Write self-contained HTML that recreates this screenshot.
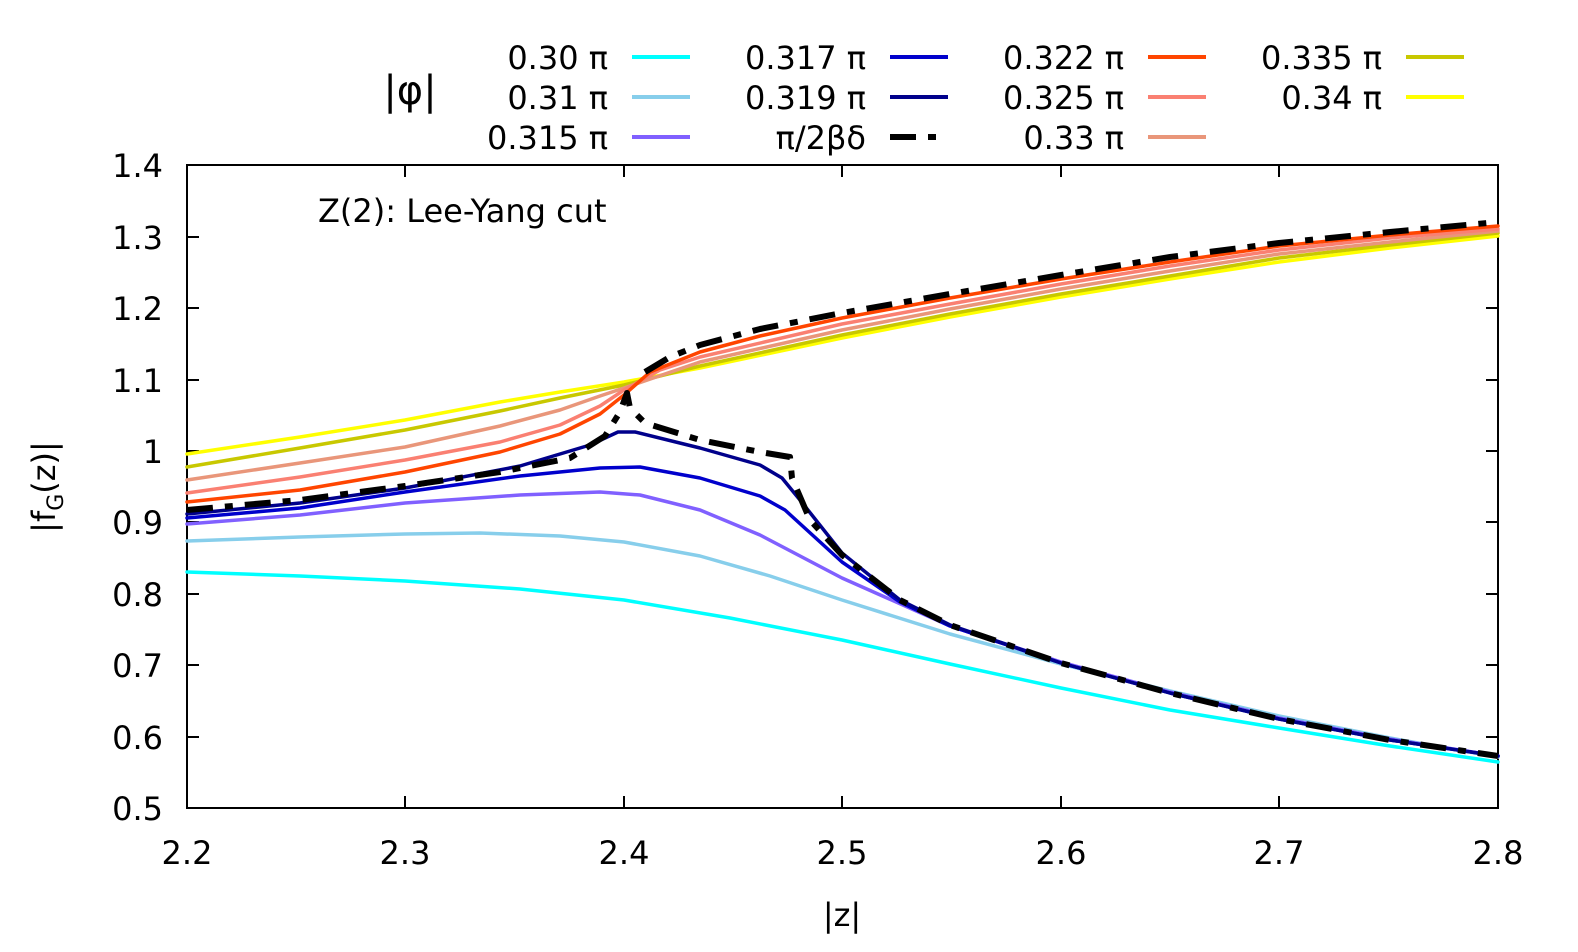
<!DOCTYPE html>
<html><head><meta charset="utf-8"><style>
html,body{margin:0;padding:0;background:#fff}
svg text{font-family:"DejaVu Sans","Liberation Sans",sans-serif;fill:#000}
</style></head><body>
<svg width="1578" height="947" viewBox="0 0 1578 947" xmlns="http://www.w3.org/2000/svg">
<rect width="1578" height="947" fill="#fff"/>
<g stroke="#000" stroke-width="2" fill="none">
<rect x="187" y="165" width="1311" height="643"/>
<path d="M405 808v-12M624 808v-12M842 808v-12M1061 808v-12M1279 808v-12M405 165v12M624 165v12M842 165v12M1061 165v12M1279 165v12
M187 237h12M187 308h12M187 380h12M187 451h12M187 522h12M187 594h12M187 665h12M187 737h12
M1498 237h-12M1498 308h-12M1498 380h-12M1498 451h-12M1498 522h-12M1498 594h-12M1498 665h-12M1498 737h-12"/>
</g>
<g font-size="32" text-anchor="end">
<text x="163" y="177">1.4</text><text x="163" y="249">1.3</text><text x="163" y="320">1.2</text><text x="163" y="392">1.1</text>
<text x="163" y="463">1</text><text x="163" y="534">0.9</text><text x="163" y="606">0.8</text><text x="163" y="677">0.7</text>
<text x="163" y="749">0.6</text><text x="163" y="820">0.5</text>
</g>
<g font-size="32" text-anchor="middle">
<text x="187" y="864">2.2</text><text x="405" y="864">2.3</text><text x="624" y="864">2.4</text><text x="842" y="864">2.5</text>
<text x="1061" y="864">2.6</text><text x="1279" y="864">2.7</text><text x="1498" y="864">2.8</text>
<text x="842" y="926">|z|</text>
</g>
<text font-size="32" transform="translate(55,487) rotate(-90)" text-anchor="middle">|f<tspan font-size="22" dy="8">G</tspan><tspan dy="-8">(z)|</tspan></text>
<text x="318" y="222" font-size="32">Z(2): Lee-Yang cut</text>
<text x="410" y="104" font-size="40" text-anchor="middle">|φ|</text>
<g font-size="32" text-anchor="end">
<text x="608" y="69">0.30 π</text><text x="608" y="109">0.31 π</text><text x="608" y="149">0.315 π</text>
<text x="866" y="69">0.317 π</text><text x="866" y="109">0.319 π</text><text x="866" y="149">π/2βδ</text>
<text x="1124" y="69">0.322 π</text><text x="1124" y="109">0.325 π</text><text x="1124" y="149">0.33 π</text>
<text x="1382" y="69">0.335 π</text><text x="1382" y="109">0.34 π</text>
</g>
<g stroke-width="4" fill="none">
<path d="M632 57h58" stroke="#00ffff"/><path d="M632 97h58" stroke="#87ceeb"/><path d="M632 137h58" stroke="#8060ff"/>
<path d="M890 57h58" stroke="#0000cc"/><path d="M890 97h58" stroke="#00008b"/>
<path d="M890 137h58" stroke="#000" stroke-width="6" stroke-dasharray="26 12 8 12"/>
<path d="M1148 57h58" stroke="#ff4500"/><path d="M1148 97h58" stroke="#fa8072"/><path d="M1148 137h58" stroke="#e9967a"/>
<path d="M1406 57h58" stroke="#c8c800"/><path d="M1406 97h58" stroke="#ffff00"/>
</g>
<g fill="none" stroke-width="3.5" stroke-linejoin="round" stroke-linecap="round">
<polyline stroke="#00ffff" points="187,572 300,576 405,581 520,589 624,600 730,618 842,640 950,664 1061,688 1170,710 1279,728 1390,746 1498,762"/>
<polyline stroke="#87ceeb" points="187,541 300,537 405,534 480,533 560,536 624,542 700,556 770,576 842,600 950,634 1061,664 1170,691 1279,716 1390,738 1498,757"/>
<polyline stroke="#8060ff" points="187,524 300,515 405,503 520,495 600,492 640,495 700,510 760,535 842,578 950,626 1061,662 1170,692 1279,718 1390,739 1498,756"/>
<polyline stroke="#0000cc" points="187,518 300,508 405,492 520,476 600,468 640,467 700,478 760,496 785,510 842,562 900,602 950,626 1061,663 1170,693 1279,719 1390,740 1498,756"/>
<polyline stroke="#00008b" points="187,514 300,503 405,488 520,466 590,445 618,432 635,432 700,448 760,465 782,478 800,500 842,553 900,600 950,625 1061,663 1170,693 1279,719 1390,740 1498,756"/>
<polyline stroke="#ffff00" points="187,454 300,437 405,420 500,402 560,392 624,382 700,368 842,338 950,317 1061,297 1170,279 1279,262 1390,248 1498,236"/>
<polyline stroke="#c8c800" points="187,467 300,448 405,430 500,411 560,398 624,385 700,366 842,335 950,314 1061,294 1170,276 1279,258 1390,245 1498,233"/>
<polyline stroke="#e9967a" points="187,480 300,463 405,447 500,426 560,410 600,396 624,388 700,362 842,330 950,309 1061,289 1170,271 1279,254 1390,242 1498,231"/>
<polyline stroke="#fa8072" points="187,493 300,477 405,460 500,442 560,425 600,406 624,390 660,370 700,357 842,324 950,304 1061,284 1170,266 1279,250 1390,238 1498,229"/>
<polyline stroke="#ff4500" points="187,502 300,490 405,472 500,452 560,434 600,414 624,395 650,372 700,352 760,336 842,318 950,298 1061,279 1170,262 1279,246 1390,235 1498,226"/>
</g>
<g fill="none" stroke="#000" stroke-width="6" stroke-dasharray="26 12 8 12" stroke-linejoin="round">
<polyline points="187,510 300,500 405,486 500,472 570,458 605,436 620,412 627,393 630,408 645,423 700,440 760,452 790,457 792,478 810,520 842,555 900,600 950,625 1061,663 1170,693 1279,719 1390,740 1498,756"/>
<polyline points="645,372 670,357 700,345 760,329 842,313 950,294 1061,275 1170,257 1279,243 1390,232 1498,222"/>
</g>
</svg>
</body></html>
